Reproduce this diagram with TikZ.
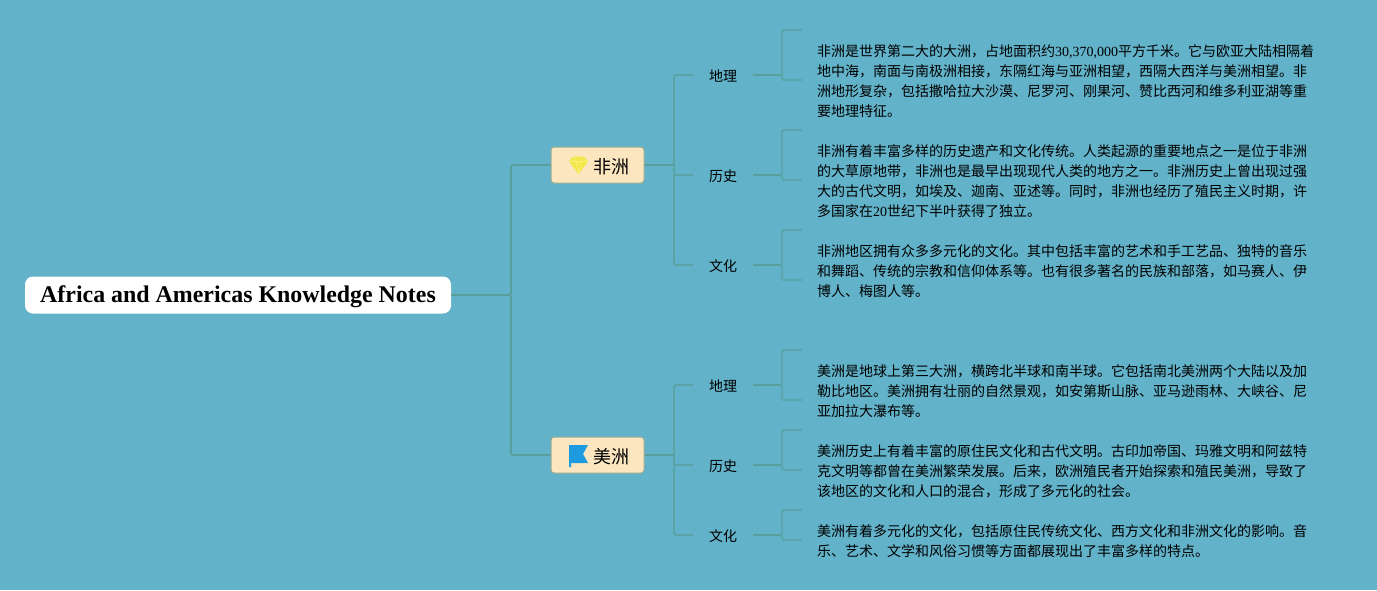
\documentclass[tikz,border=0pt]{standalone}
\usepackage{fontspec}
\setmainfont{Liberation Serif}
\newfontfamily\cjk{Noto Sans CJK SC}
\definecolor{bg}{HTML}{62B2C9}
\definecolor{conn}{HTML}{5A9E9C}
\definecolor{connb}{HTML}{5BA3A5}
\definecolor{connc}{HTML}{5BA6AC}
\definecolor{mainfill}{HTML}{FBE6BF}
\definecolor{mainedge}{HTML}{97AD92}
\definecolor{gem}{HTML}{F2E84A}
\definecolor{gemd}{HTML}{FAF07A}
\definecolor{flagc}{HTML}{1E9BE0}
\tikzset{
  x=1pt,y=-1pt,
  line/.style={draw=conn,line width=1.8pt,rounded corners=2pt},
  lineb/.style={draw=connb,line width=1.8pt,rounded corners=2pt},
  linec/.style={draw=connc,line width=2.2pt,rounded corners=2pt},
  rootbox/.style={fill=white,rounded corners=8pt,minimum width=426pt,minimum height=37pt,inner sep=0pt},
  roottext/.style={inner sep=0pt,font=\fontsize{23.9}{28}\selectfont\bfseries},
  mainbox/.style={fill=mainfill,draw=mainedge,line width=1pt,rounded corners=3pt,minimum width=93pt,minimum height=36pt,inner sep=0pt},
  subbox/.style={minimum width=60pt,minimum height=20pt,inner sep=0pt,font=\fontsize{14}{20}\selectfont\cjk},
  textbox/.style={anchor=west,inner sep=0pt,outer sep=0pt,align=left,font=\fontsize{14}{20}\selectfont\cjk}
}
\newcommand{\nm}[1]{{\rmfamily\fontspec{Liberation Serif}#1}}
\begin{document}
\begin{tikzpicture}
\useasboundingbox (0,0) rectangle (1377,590);
\fill[bg] (0,0) rectangle (1377,590);
\node[rootbox] (root) at (238,295) {};
\node[roottext] (roott) at (238,297.2) {Africa and Americas Knowledge Notes};
\node[mainbox] (af) at (597.5,165) {};
\node[mainbox] (am) at (597.5,455) {};
\node[font=\fontsize{18}{22}\selectfont\cjk,anchor=west,inner sep=0pt] (aft) at (593,167) {非洲};
\node[font=\fontsize{18}{22}\selectfont\cjk,anchor=west,inner sep=0pt] (amt) at (593,457) {美洲};
% icons
\fill[gem] (573,156.5) -- (584,156.5) -- (588,161.5) -- (578.5,174) -- (569,161.5) -- cycle;
\draw[gemd,line width=.7pt] (569.5,161.5) -- (587.5,161.5) (574,157) -- (576,161.5) -- (578.5,173) -- (581,161.5) -- (583,157);
\fill[flagc] (569,445) -- (588,445) -- (583,454) -- (588,463) -- (571,463) -- (571,467) -- (569,467) -- cycle;
\foreach \n/\lab/\y in {a1/地理/76,a2/历史/176,a3/文化/266,b1/地理/386,b2/历史/466,b3/文化/536}
  \node[subbox] (\n) at (723,\y) {\lab};
\node[textbox] (ta1) at (817,81) {非洲是世界第二大的大洲，占地面积约\nm{30,370,000}平方千米。它与欧亚大陆相隔着\\地中海，南面与南极洲相接，东隔红海与亚洲相望，西隔大西洋与美洲相望。非\\洲地形复杂，包括撒哈拉大沙漠、尼罗河、刚果河、赞比西河和维多利亚湖等重\\要地理特征。};
\node[textbox] (ta2) at (817,181) {非洲有着丰富多样的历史遗产和文化传统。人类起源的重要地点之一是位于非洲\\的大草原地带，非洲也是最早出现现代人类的地方之一。非洲历史上曾出现过强\\大的古代文明，如埃及、迦南、亚述等。同时，非洲也经历了殖民主义时期，许\\多国家在\nm{20}世纪下半叶获得了独立。};
\node[textbox] (ta3) at (817,271) {非洲地区拥有众多多元化的文化。其中包括丰富的艺术和手工艺品、独特的音乐\\和舞蹈、传统的宗教和信仰体系等。也有很多著名的民族和部落，如马赛人、伊\\博人、梅图人等。};
\node[textbox] (tb1) at (817,391) {美洲是地球上第三大洲，横跨北半球和南半球。它包括南北美洲两个大陆以及加\\勒比地区。美洲拥有壮丽的自然景观，如安第斯山脉、亚马逊雨林、大峡谷、尼\\亚加拉大瀑布等。};
\node[textbox] (tb2) at (817,471) {美洲历史上有着丰富的原住民文化和古代文明。古印加帝国、玛雅文明和阿兹特\\克文明等都曾在美洲繁荣发展。后来，欧洲殖民者开始探索和殖民美洲，导致了\\该地区的文化和人口的混合，形成了多元化的社会。};
\node[textbox] (tb3) at (817,541) {美洲有着多元化的文化，包括原住民传统文化、西方文化和非洲文化的影响。音\\乐、艺术、文学和风俗习惯等方面都展现出了丰富多样的特点。};
% connectors
\path[line] (root.east) -- (511,295) |- (af.west);
\path[line] (root.east) -- (511,295) |- (am.west);
\foreach \p/\q/\yy/\ys in {af/a1/165/75,af/a2/165/175,af/a3/165/265,am/b1/455/385,am/b2/455/465,am/b3/455/535}{
  \coordinate (j\q) at (693,\ys);
  \path[lineb] (674,\yy) |- (j\q);
}
\foreach \p/\yy in {af/165,am/455}
  \path[line] (\p.east) -- (674,\yy);
\foreach \n/\t/\ym/\ya/\yb in {a1/ta1/75/30/80,a2/ta2/175/130/180,a3/ta3/265/230/280,b1/tb1/385/350/400,b2/tb2/465/430/470,b3/tb3/535/510/540}{
  \coordinate (s\n) at (753,\ym);
  \coordinate (u\n) at (802,\ya);
  \coordinate (d\n) at (802,\yb);
  \path[line] (s\n) -- (782,\ym);
  \path[linec] (782,\ym) |- (u\n);
  \path[linec] (782,\ym) |- (d\n);
}
\end{tikzpicture}
\end{document}
